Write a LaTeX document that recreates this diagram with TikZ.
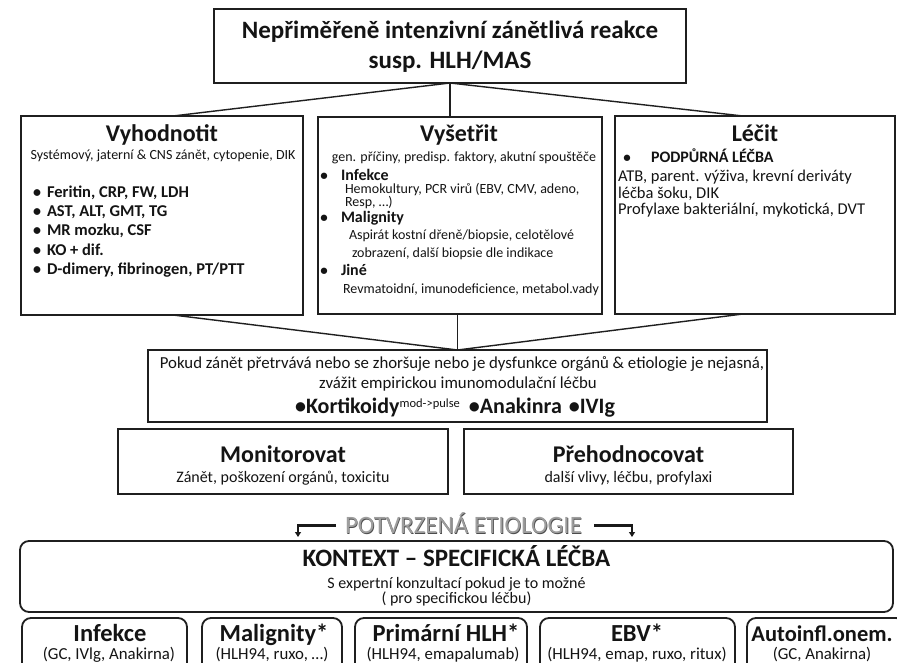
\documentclass[tikz,border=0pt]{standalone}
\usepackage{fontspec}
\setmainfont{Carlito}
\usetikzlibrary{arrows.meta}
\newcommand\fsz[1]{\fontsize{#1}{#1}\selectfont}
\begin{document}
\begin{tikzpicture}[x=1pt,y=-1pt,
  box/.style={draw=black!88, line width=1.8pt, inner sep=0pt, outer sep=0pt, fill=white},
  rbox/.style={box, rounded corners=9pt},
  conn/.style={draw=black!88, line width=1.4pt},
  tc/.style={inner sep=0pt, outer sep=0pt, text=black!92, anchor=base},
  tl/.style={inner sep=0pt, outer sep=0pt, text=black!92, anchor=base west},
  bul/.style={inner sep=0pt, outer sep=0pt, text=black!92, anchor=base},
  title/.style={tc, font=\fsz{24}\bfseries},
  btitle/.style={tc, font=\fsz{24.5}\bfseries},
  bsub/.style={tc, font=\fsz{16.8}},
  arr/.style={draw=black!90, line width=3pt},
  arrd/.style={draw=black!90, line width=1.6pt, -{Triangle[length=5pt,width=6pt]}}
]
\useasboundingbox (0,0) rectangle (897,663);
\clip (0,0) rectangle (897,663);
\fill[white] (0,0) rectangle (897,663);

% boxes
\node[box, minimum width=472pt, minimum height=74pt] (top) at (450,46) {};
\node[box, minimum width=282pt, minimum height=199pt] (vyh) at (162,215.5) {};
\node[box, minimum width=284pt, minimum height=197pt] (vys) at (460,215.5) {};
\node[box, minimum width=280pt, minimum height=198pt] (lec) at (755,215) {};
\node[box, minimum width=619pt, minimum height=72pt] (pok) at (457.5,386) {};
\node[box, minimum width=330pt, minimum height=65pt] (mon) at (283,461.5) {};
\node[box, minimum width=329pt, minimum height=65pt] (pre) at (628.5,461.5) {};
\node[rbox, minimum width=873pt, minimum height=71pt] (kon) at (456.5,576.5) {};
\node[rbox, minimum width=165pt, minimum height=72pt] (inf) at (104.5,654) {};
\node[rbox, minimum width=140pt, minimum height=72pt] (mal) at (272,654) {};
\node[rbox, minimum width=172pt, minimum height=72pt] (pri) at (441,654) {};
\node[rbox, minimum width=195pt, minimum height=72pt] (ebv) at (637.5,654) {};
\node[rbox, minimum width=158pt, minimum height=72pt] (aut) at (826,654) {};

% connectors
\draw[conn] (top.south) -- ([xshift=11pt]vyh.north);
\draw[conn] (top.south) -- (top.south |- vys.north);
\draw[conn] (top.south) -- ([xshift=-12pt]lec.north);
\draw[conn] ([xshift=11pt]vyh.south) -- (pok.north);
\draw[conn] (vys.south -| pok.north) -- (pok.north);
\draw[conn] ([xshift=-12pt]lec.south) -- (pok.north);

% top text
\node[tc, font=\fsz{25}\bfseries] (t1) at (450,39) {Nepřiměřeně intenzivní zánětlivá reakce};
\node[tc, font=\fsz{25}\bfseries] (t2) at (450,69) {susp. HLH/MAS};

% Vyhodnotit
\node[title] (vyhT) at (162,142) {Vyhodnotit};
\node[tc, font=\fsz{14}] (vyhS) at (163,160) {Systémový, jaterní \& CNS zánět, cytopenie, DIK};
\foreach \yy/\tx [count=\i] in {198/{Feritin, CRP, FW, LDH},217/{AST, ALT, GMT, TG},236/{MR mozku, CSF},255/{KO + dif.},274/{D-dimery, fibrinogen, PT/PTT}}{
  \node[bul, font=\fsz{16}\bfseries] (vb\i) at (37,\yy) {•};
  \node[tl, font=\fsz{16.5}\bfseries] (vl\i) at (47,\yy) {\tx};
}

% Vysetrit
\node[title] (vysT) at (459,142) {Vyšetřit};
\node[tc, font=\fsz{14}] (vysS) at (464,162) {gen. příčiny, predisp. faktory, akutní spouštěče};
\node[bul, font=\fsz{15}\bfseries] (vsb1) at (324,181) {•};
\node[tl, font=\fsz{16}\bfseries] (vsh1) at (341,181) {Infekce};
\node[tl, font=\fsz{14}] (vst1) at (345,194) {Hemokultury, PCR virů (EBV, CMV, adeno,};
\node[tl, font=\fsz{14}] (vst2) at (345,207) {Resp, …)};
\node[bul, font=\fsz{15}\bfseries] (vsb2) at (324,223) {•};
\node[tl, font=\fsz{16}\bfseries] (vsh2) at (341,223) {Malignity};
\node[tl, font=\fsz{14}] (vst3) at (349,240) {Aspirát kostní dřeně/biopsie, celotělové};
\node[tl, font=\fsz{14}] (vst4) at (352,258) {zobrazení, další biopsie dle indikace};
\node[bul, font=\fsz{15}\bfseries] (vsb3) at (324,275) {•};
\node[tl, font=\fsz{16}\bfseries] (vsh3) at (341,275) {Jiné};
\node[tl, font=\fsz{14}] (vst5) at (343,293) {Revmatoidní, imunodeficience, metabol.vady};

% Lecit
\node[title] (lecT) at (755,142) {Léčit};
\node[bul, font=\fsz{15}\bfseries] (lb1) at (627,163) {•};
\node[tl, font=\fsz{16}\bfseries] (lh1) at (651,163) {PODPŮRNÁ LÉČBA};
\node[tl, font=\fsz{16.5}] (lt1) at (618,182) {ATB, parent. výživa, krevní deriváty};
\node[tl, font=\fsz{16.5}] (lt2) at (618,198.5) {léčba šoku, DIK};
\node[tl, font=\fsz{16.5}] (lt3) at (618,215) {Profylaxe bakteriální, mykotická, DVT};

% Pokud
\node[tc, font=\fsz{16.8}] (p1) at (462,368) {Pokud zánět přetrvává nebo se zhoršuje nebo je dysfunkce orgánů \& etiologie je nejasná,};
\node[tc, font=\fsz{16.8}] (p2) at (458,388) {zvážit empirickou imunomodulační léčbu};
\node[tc, font=\fsz{22}\bfseries] (p3) at (455,413) {•Kortikoidy\raisebox{6pt}{\fsz{12.5}\mdseries mod-{}>pulse}\hspace{9pt}•Anakinra\hspace{7pt}•IVIg};

% Monitorovat / Prehodnocovat
\node[tc, font=\fsz{24}\bfseries] (monT) at (283,462) {Monitorovat};
\node[tc, font=\fsz{16}] (monS) at (283,482) {Zánět, poškození orgánů, toxicitu};
\node[tc, font=\fsz{24}\bfseries] (preT) at (628.5,462) {Přehodnocovat};
\node[tc, font=\fsz{16}] (preS) at (628.5,482) {další vlivy, léčbu, profylaxi};

% potvrzena etiologie
\node[tc, font=\fsz{25}, text=black!70] (potS) at (464.2,534.2) {POTVRZENÁ ETIOLOGIE};
\node[tc, font=\fsz{25}, text=black!38] (pot) at (463.5,533.5) {POTVRZENÁ ETIOLOGIE};
\coordinate (la1) at (336,525);
\coordinate (la2) at (298,525);
\coordinate (la3) at (298,537);
\coordinate (ra1) at (594,525);
\coordinate (ra2) at (632,525);
\coordinate (ra3) at (632,537);
\draw[arr] (la1) -- ([xshift=-0.8pt]la2);
\draw[arrd] ([yshift=-1pt]la2) -- (la3);
\draw[arr] (ra1) -- ([xshift=0.8pt]ra2);
\draw[arrd] ([yshift=-1pt]ra2) -- (ra3);

% kontext
\node[tc, font=\fsz{25}\bfseries] (konT) at (456.5,566) {KONTEXT – SPECIFICKÁ LÉČBA};
\node[tc, font=\fsz{16}] (konS1) at (456.5,588) {S expertní konzultací pokud je to možné};
\node[tc, font=\fsz{16}] (konS2) at (456.5,603.5) {( pro specifickou léčbu)};

% bottom boxes
\node[btitle] (infT) at (110,641) {Infekce};
\node[bsub] (infS) at (109,659) {(GC, IVlg, Anakirna)};
\node[btitle] (malT) at (274,641) {Malignity*};
\node[bsub] (malS) at (272,659) {(HLH94, ruxo, …)};
\node[btitle] (priT) at (446,641) {Primární HLH*};
\node[bsub] (priS) at (443,659) {(HLH94, emapalumab)};
\node[btitle] (ebvT) at (637,641) {EBV*};
\node[bsub] (ebvS) at (637,659) {(HLH94, emap, ruxo, ritux)};
\node[tc, font=\fsz{22.5}\bfseries] (autT) at (822,641) {Autoinfl.onem.};
\node[bsub] (autS) at (822,659) {(GC, Anakirna)};
\end{tikzpicture}
\end{document}
